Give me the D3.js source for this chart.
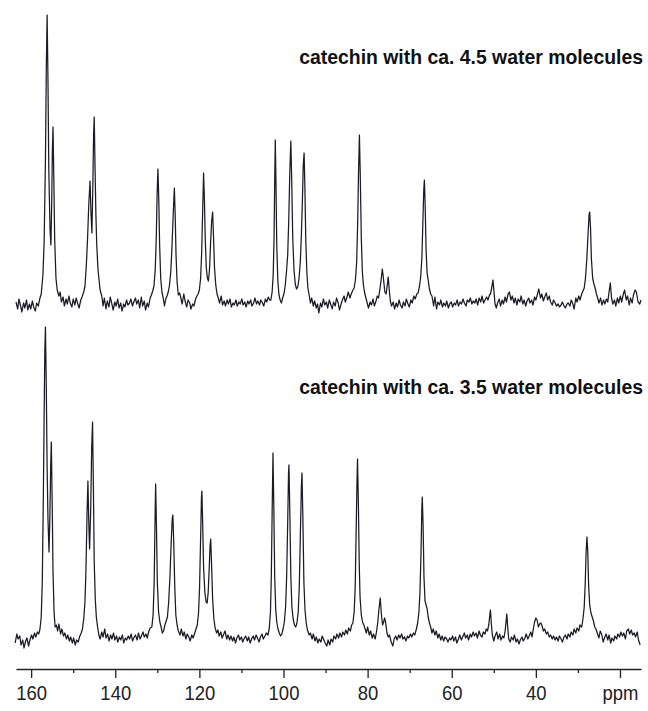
<!DOCTYPE html>
<html>
<head>
<meta charset="utf-8">
<script src="https://cdn.jsdelivr.net/npm/d3@7"></script>
<style>
  body { margin: 0; background: #fff; }
  svg { display: block; }
</style>
</head>
<body>
<script>
// spectrum traces: [ppm, intensity above baseline]
var spectrumWater45 = [
  [163.6,-2],[163.2,-9],[162.9,1],[162.5,-6],[162.2,-12],[161.8,-3],[161.5,-8],[161.1,0],[160.8,-10],[160.4,-4],
  [160.1,-9],[159.7,-1],[159.4,-7],[159.0,-11],[158.7,-3],[158.3,-6],[157.9,2],[157.6,6],
  [157.2,25],[156.9,60],[156.6,140],[156.4,230],[156.2,285],[156.0,220],[155.8,130],[155.5,70],[155.3,55],
  [155.1,100],[154.95,150],[154.8,173],[154.6,120],[154.4,60],[154.1,22],[153.8,10],[153.4,4],
  [153.1,8],[152.8,-2],[152.4,3],[152.1,-6],[151.7,1],[151.4,-4],[151.0,4],[150.7,-3],[150.3,-7],[150.0,1],
  [149.6,-5],[149.3,2],[148.9,-4],[148.6,-8],[148.2,0],[147.9,3],[147.5,8],
  [147.2,14],[146.9,33],[146.6,60],[146.3,95],[146.0,119],[145.75,85],[145.55,67],[145.35,110],[145.15,165],
  [145.0,183],[144.8,130],[144.6,85],[144.4,55],[144.1,30],[143.9,22],[143.6,10],[143.2,4],
  [142.9,-6],[142.6,2],[142.2,-9],[141.9,-1],[141.5,-7],[141.2,3],[140.8,-4],[140.5,-10],[140.1,-2],[139.8,-6],
  [139.4,1],[139.1,-8],[138.7,-3],[138.4,-11],[138.0,-4],[137.7,-7],[137.3,0],[137.0,-5],[136.6,-3],[136.3,1],
  [135.9,-6],[135.6,-2],[135.2,2],[134.9,-4],[134.5,0],[134.2,-8],[133.8,3],[133.5,-6],[133.1,-1],[132.8,-10],
  [132.4,-3],[132.1,-7],[131.7,2],[131.4,5],[131.1,9],
  [130.8,14],[130.5,30],[130.25,62],[130.05,105],[129.85,131],[129.65,100],[129.45,55],[129.2,22],[128.9,8],
  [128.6,2],[128.3,-6],[128.0,1],[127.7,4],[127.4,8],[127.1,15],[126.8,28],[126.5,55],[126.2,88],[125.95,112],
  [125.75,85],[125.55,45],[125.3,18],[125.0,5],[124.7,7],
  [124.4,2],[124.1,-4],[123.7,6],[123.4,-1],[123.0,-7],[122.7,0],[122.3,-3],[122.0,-9],[121.6,-4],[121.3,-6],
  [120.9,1],[120.6,4],
  [120.3,6],[120.0,10],[119.7,22],[119.45,48],[119.2,92],[119.0,127],[118.8,100],[118.6,60],[118.35,32],[118.1,22],
  [117.85,19],[117.6,30],[117.35,55],[117.1,78],[116.85,88],[116.65,65],[116.4,32],[116.1,15],[115.8,6],
  [115.5,2],[115.2,-3],[114.8,4],[114.5,-5],[114.1,-1],[113.8,-6],[113.4,0],[113.1,-4],[112.7,1],[112.4,-7],
  [112.0,-3],[111.7,-5],[111.3,0],[111.0,-6],[110.6,-2],[110.3,-4],[109.9,1],[109.6,-5],[109.2,-2],[108.9,-7],
  [108.5,-1],[108.2,-4],[107.8,0],[107.5,-6],[107.1,-3],[106.8,2],[106.4,-4],[106.1,-1],[105.7,-5],[105.4,0],
  [105.0,-3],[104.7,-6],[104.3,1],[104.0,-2],[103.6,3],[103.3,0],
  [103.0,0],[102.7,8],[102.45,25],[102.25,60],[102.1,115],[101.95,160],[101.8,120],[101.6,55],[101.35,20],[101.1,6],
  [100.8,0],[100.5,-3],[100.2,2],[99.9,6],[99.6,14],[99.3,28],[99.0,45],[98.75,80],[98.5,128],[98.25,159],
  [98.05,120],[97.8,62],[97.5,30],[97.2,16],[96.9,11],[96.6,13],[96.3,22],[96.0,38],[95.75,65],[95.5,100],
  [95.3,135],[95.1,147],[94.9,110],[94.7,60],[94.45,28],[94.2,12],[93.9,5],
  [93.6,-3],[93.3,2],[92.9,-6],[92.6,-1],[92.2,-8],[91.9,-4],[91.6,-13],[91.2,-3],[90.9,-7],[90.5,1],
  [90.2,-5],[89.8,-2],[89.5,-8],[89.1,0],[88.8,-4],[88.4,-9],[88.1,-2],[87.7,-6],[87.4,2],[87.0,-3],
  [86.7,-10],[86.3,-4],[86.0,0],[85.6,4],[85.3,-2],[84.9,3],[84.6,8],[84.2,2],[83.9,6],[83.5,10],
  [83.2,12],[82.9,20],[82.6,38],[82.35,80],[82.15,130],[81.95,165],[81.75,125],[81.5,62],[81.25,28],[81.0,15],
  [80.7,7],[80.4,2],
  [80.1,-3],[79.8,-8],[79.4,-2],[79.1,-5],[78.7,1],[78.4,-6],[78.0,-1],[77.7,4],
  [77.4,2],[77.1,10],[76.8,20],[76.5,31],[76.2,20],[75.9,8],[75.6,6],[75.35,14],[75.1,23],[74.85,10],[74.6,-1],
  [74.3,-6],[73.9,-2],[73.6,-9],[73.2,-3],[72.9,-7],[72.5,0],[72.2,-5],[71.8,-8],[71.5,-2],[71.1,-6],
  [70.8,1],[70.4,-4],[70.1,-7],[69.7,0],[69.4,-3],[69.0,4],[68.7,1],[68.3,6],
  [68.0,7],[67.7,13],[67.4,22],[67.1,42],[66.85,80],[66.65,110],[66.5,120],[66.3,92],[66.1,50],[65.85,27],
  [65.6,20],[65.35,12],[65.0,6],
  [64.7,4],[64.3,-6],[64.0,3],[63.6,-9],[63.3,-2],[62.9,-5],[62.6,0],[62.2,-7],[61.9,-3],[61.5,-6],
  [61.2,-1],[60.8,-8],[60.5,-4],[60.1,-2],[59.8,-7],[59.4,-3],[59.1,-5],[58.7,0],[58.4,-6],[58.0,-2],
  [57.7,-4],[57.3,1],[57.0,-3],[56.6,-6],[56.3,0],[55.9,-2],[55.6,2],[55.2,-4],[54.9,-1],[54.5,-3],
  [54.2,1],[53.8,-5],[53.5,2],[53.1,-2],[52.8,4],[52.4,-3],[52.1,0],[51.7,3],[51.4,0],[51.0,5],
  [50.8,6],[50.5,12],[50.2,20],[49.95,8],[49.7,-4],[49.4,-8],
  [49.1,-3],[48.7,1],[48.4,-6],[48.0,0],[47.7,-4],[47.3,3],[47.0,-2],[46.6,6],[46.3,8],[45.9,0],
  [45.6,4],[45.2,-3],[44.9,2],[44.5,-5],[44.2,1],[43.8,-2],[43.5,4],[43.1,-4],[42.8,0],[42.4,-6],
  [42.1,-1],[41.7,2],[41.4,-3],[41.0,0],[40.7,-5],[40.3,3],[40.0,0],[39.6,6],[39.3,11],[38.9,2],
  [38.6,6],[38.2,-1],[37.9,3],[37.5,7],[37.2,0],[36.8,4],[36.5,-2],[36.1,-5],[35.8,0],[35.4,-3],
  [35.1,-6],[34.7,-4],[34.4,-7],[34.0,-5],[33.7,-2],[33.3,-6],[33.0,-8],[32.6,-4],[32.3,-3],[31.9,-6],
  [31.6,0],[31.2,-4],[30.9,-9],[30.5,2],[30.2,-2],[29.8,4],[29.5,0],[29.1,6],[28.8,9],
  [28.5,12],[28.2,22],[27.9,40],[27.6,65],[27.35,85],[27.2,88],[27.0,72],[26.8,42],[26.5,22],[26.2,16],
  [25.9,12],[25.6,6],[25.3,2],
  [25.0,-3],[24.6,2],[24.3,-5],[23.9,0],[23.6,-4],[23.2,1],[22.9,-2],[22.6,8],[22.3,17],[22.0,2],
  [21.7,-4],[21.3,0],[21.0,-6],[20.6,2],[20.3,-3],[19.9,4],[19.6,-2],[19.2,6],[18.9,10],[18.5,0],
  [18.2,4],[17.8,-5],[17.5,2],[17.1,-3],[16.8,5],[16.4,10],[16.1,8],[15.7,-2],[15.3,-4],[15.0,0]
];

var spectrumWater35 = [
  [163.8,-6],[163.4,3],[163.1,-2],[162.7,1],[162.4,-8],[162.0,-3],[161.7,-11],[161.3,-4],[161.0,-1],[160.6,-9],
  [160.3,-3],[159.9,2],[159.6,-2],[159.2,4],[158.9,0],[158.5,5],[158.2,3],[157.9,8],
  [157.6,20],[157.35,55],[157.1,140],[156.9,225],[156.75,285],[156.6,310],[156.4,250],[156.2,170],[156.0,118],
  [155.75,85],[155.55,120],[155.35,172],[155.2,195],[155.0,135],[154.8,65],[154.55,25],[154.3,10],[154.0,12],
  [153.7,6],[153.4,13],[153.0,3],[152.7,8],[152.3,1],[152.0,4],[151.6,-2],[151.3,2],[150.9,-4],[150.6,0],
  [150.2,-6],[149.9,-1],[149.5,-8],[149.2,-3],[148.8,-5],[148.5,0],[148.1,4],
  [147.8,8],[147.5,18],[147.2,35],[146.95,70],[146.7,125],[146.5,156],[146.3,115],[146.1,88],[145.85,125],
  [145.6,190],[145.4,215],[145.2,150],[145.0,75],[144.75,38],[144.5,20],[144.2,10],[143.9,2],
  [143.6,-2],[143.2,5],[142.9,0],[142.5,8],[142.2,-1],[141.8,3],[141.5,-4],[141.1,2],[140.8,-2],[140.4,4],
  [140.1,-3],[139.7,1],[139.4,-5],[139.0,0],[138.7,-3],[138.3,2],[138.0,-6],[137.6,-1],[137.3,-3],[136.9,1],
  [136.6,-2],[136.2,3],[135.9,-4],[135.5,0],[135.2,2],[134.8,-3],[134.5,4],[134.1,-2],[133.8,1],[133.4,5],
  [133.1,0],[132.7,3],[132.4,-1],[132.0,6],[131.7,9],
  [131.3,10],[131.0,22],[130.75,55],[130.55,115],[130.4,153],[130.2,110],[130.0,55],[129.7,25],[129.4,15],
  [129.1,10],[128.8,4],[128.5,6],[128.2,12],[127.9,16],[127.6,20],[127.3,35],[127.0,60],[126.7,95],[126.45,118],
  [126.3,122],[126.1,95],[125.85,50],[125.6,22],[125.3,12],[125.0,6],
  [124.6,2],[124.3,8],[123.9,1],[123.6,5],[123.2,-2],[122.9,3],[122.5,0],[122.2,-4],[121.8,2],[121.5,-1],
  [121.1,4],[120.8,8],
  [120.5,12],[120.2,24],[119.95,50],[119.7,100],[119.5,140],[119.4,146],[119.2,110],[119.0,70],[118.7,45],
  [118.4,35],[118.15,34],[117.9,45],[117.65,70],[117.45,92],[117.3,98],[117.1,72],[116.85,38],[116.55,18],
  [116.25,9],[115.9,4],
  [115.6,7],[115.3,1],[114.9,5],[114.6,-1],[114.2,3],[113.9,6],[113.5,-2],[113.2,2],[112.8,-3],[112.5,1],
  [112.1,-4],[111.8,0],[111.4,-6],[111.1,-1],[110.7,2],[110.4,-3],[110.0,0],[109.7,-5],[109.3,-1],[109.0,1],
  [108.6,-4],[108.3,0],[107.9,-6],[107.6,-2],[107.2,1],[106.9,-3],[106.5,2],[106.2,-1],[105.8,-5],[105.5,0],
  [105.1,3],[104.8,-2],[104.4,1],[104.1,4],[103.7,2],
  [103.4,8],[103.1,25],[102.9,60],[102.7,125],[102.5,184],[102.3,130],[102.1,62],[101.85,28],[101.6,15],
  [101.3,8],[101.0,4],[100.7,1],[100.4,3],[100.1,8],[99.8,15],[99.5,30],[99.25,60],[99.0,115],[98.8,165],
  [98.7,172],[98.5,125],[98.25,60],[98.0,30],[97.7,18],[97.4,12],[97.1,10],[96.8,14],[96.5,25],[96.25,50],
  [96.0,100],[95.75,150],[95.6,164],[95.4,120],[95.15,55],[94.9,28],[94.6,14],[94.3,7],[93.9,2],
  [93.6,4],[93.2,-2],[92.9,3],[92.5,-4],[92.2,0],[91.8,-6],[91.5,-2],[91.1,-5],[90.8,1],[90.4,-3],
  [90.1,-6],[89.7,-9],[89.4,-3],[89.0,-8],[88.7,-2],[88.3,-5],[88.0,1],[87.6,-2],[87.3,3],[86.9,-1],
  [86.6,4],[86.2,0],[85.9,5],[85.5,2],[85.2,7],[84.8,3],[84.5,9],[84.1,6],[83.8,12],
  [83.5,14],[83.2,25],[82.95,50],[82.75,100],[82.55,150],[82.4,178],[82.2,135],[82.0,75],[81.8,40],[81.5,22],
  [81.2,15],[80.9,12],[80.6,8],
  [80.3,4],[80.0,10],[79.6,2],[79.3,6],[78.9,-1],[78.6,3],[78.2,-2],[77.9,5],
  [77.6,14],[77.3,28],[77.0,39],[76.75,24],[76.45,12],[76.2,15],[75.95,19],[75.7,14],[75.4,4],[75.1,0],
  [74.8,2],[74.4,-5],[74.0,-9],
  [73.7,-2],[73.3,1],[73.0,-3],[72.6,2],[72.3,-1],[71.9,3],[71.6,-2],[71.2,0],[70.9,-4],[70.5,1],
  [70.2,-1],[69.8,3],[69.5,0],[69.1,4],[68.8,2],[68.4,8],
  [68.1,14],[67.8,25],[67.55,45],[67.3,85],[67.1,130],[67.0,140],[66.8,110],[66.6,60],[66.35,36],[66.1,32],
  [65.85,28],[65.6,20],[65.3,14],[65.0,10],[64.7,4],
  [64.4,8],[64.0,2],[63.7,6],[63.3,-1],[63.0,3],[62.6,-3],[62.3,1],[61.9,-4],[61.6,0],[61.2,-2],
  [60.9,-5],[60.5,-1],[60.2,-3],[59.8,1],[59.5,-4],[59.1,0],[58.8,-6],[58.4,-2],[58.1,2],[57.7,-3],
  [57.4,0],[57.0,4],[56.7,-1],[56.3,2],[56.0,-3],[55.6,3],[55.3,0],[54.9,5],[54.6,1],[54.2,4],
  [53.9,-1],[53.5,6],[53.2,2],[52.8,0],[52.5,5],[52.1,3],[51.8,8],
  [51.5,6],[51.2,12],[51.0,20],[50.8,27],[50.6,14],[50.35,2],[50.0,-4],[49.7,1],[49.3,5],[49.0,-2],
  [48.6,3],[48.3,-3],[47.9,1],[47.6,-1],[47.3,6],[47.1,15],[46.9,23],[46.7,10],[46.45,-2],[46.1,-5],
  [45.8,0],[45.4,-3],[45.1,2],[44.7,-5],[44.4,-2],[44.0,-7],[43.7,-3],[43.3,0],[43.0,-4],[42.6,-1],
  [42.3,3],[41.9,-2],[41.6,1],[41.2,5],[40.9,0],[40.6,8],[40.3,15],[40.0,19],[39.7,17],[39.4,10],
  [39.1,13],[38.8,14],[38.5,11],[38.2,6],[37.9,8],[37.5,3],[37.2,5],[36.8,0],[36.5,2],[36.1,-2],
  [35.8,1],[35.4,-3],[35.1,0],[34.7,-4],[34.4,1],[34.0,-2],[33.7,-5],[33.3,0],[33.0,2],[32.6,-2],
  [32.3,3],[31.9,0],[31.6,5],[31.2,2],[30.9,8],[30.5,4],[30.2,9],[29.8,6],[29.5,12],[29.1,10],[28.8,18],
  [28.5,30],[28.25,55],[28.05,85],[27.85,100],[27.65,85],[27.45,52],[27.2,32],[26.9,24],[26.6,20],
  [26.3,16],[26.0,10],[25.7,8],
  [25.4,4],[25.0,-1],[24.7,6],[24.3,2],[24.0,-5],[23.6,0],[23.3,3],[22.9,-3],[22.6,2],[22.2,-6],
  [21.9,-1],[21.5,-4],[21.2,1],[20.8,-2],[20.5,3],[20.1,0],[19.8,5],[19.4,1],[19.1,4],[18.7,-2],
  [18.4,6],[18.0,8],[17.7,3],[17.3,7],[17.0,2],[16.6,4],[16.3,0],[15.9,5],[15.6,-3],[15.2,-8]
];

var traceLabels = ["catechin with ca. 4.5 water molecules", "catechin with ca. 3.5 water molecules"];
var majorTicks = [160, 140, 120, 100, 80, 60, 40, 20];
var minorTicks = [150, 130, 110, 90, 70, 50, 30];
var unitLabel = "ppm";

var width = 648, height = 711;

var svg = d3.select("body").append("svg")
    .attr("width", width)
    .attr("height", height);

var x = d3.scaleLinear().domain([163.6, 15]).range([16, 641]);

// same vertical scale for both traces, only the baseline moves
var traces = [
  { data: spectrumWater45, label: traceLabels[0], y: d3.scaleLinear().domain([0, 300]).range([300, 0]), labelY: 64 },
  { data: spectrumWater35, label: traceLabels[1], y: d3.scaleLinear().domain([0, 300]).range([637, 337]), labelY: 394 }
];

traces.forEach(function(t) {
  var line = d3.line()
      .x(function(d) { return x(d[0]); })
      .y(function(d) { return t.y(d[1]); });

  svg.append("path")
      .datum(t.data)
      .attr("fill", "none")
      .attr("stroke", "#1b1b27")
      .attr("stroke-width", 1.25)
      .attr("stroke-linejoin", "round")
      .attr("d", line);

  svg.append("text")
      .attr("x", 643)
      .attr("y", t.labelY)
      .attr("text-anchor", "end")
      .style("font-family", "'Liberation Sans', Arial, sans-serif")
      .style("font-weight", "bold")
      .style("font-size", "19.4px")
      .style("fill", "#111")
      .text(t.label);
});

var axisY = 669;

var axis = d3.axisBottom(x)
    .tickValues(majorTicks)
    .tickSize(9)
    .tickSizeOuter(0)
    .tickPadding(7)
    .tickFormat(function(d) { return d === 20 ? unitLabel : d; });

var gAxis = svg.append("g")
    .attr("transform", "translate(0," + axisY + ")")
    .call(axis);

gAxis.select(".domain").attr("stroke", "#222").attr("stroke-width", 1.5);
gAxis.selectAll(".tick line").attr("stroke", "#222").attr("stroke-width", 1.3);
// the labels in the picture are a narrow sans, so squeeze them a little
gAxis.selectAll(".tick text")
    .attr("fill", "#222")
    .attr("transform", "scale(0.88,1)")
    .style("font-family", "'Liberation Sans', Arial, sans-serif")
    .style("font-size", "21px");

var minorAxis = d3.axisBottom(x)
    .tickValues(minorTicks)
    .tickSize(4)
    .tickSizeOuter(0)
    .tickFormat("");

var gMinor = svg.append("g")
    .attr("transform", "translate(0," + axisY + ")")
    .call(minorAxis);
gMinor.select(".domain").remove();
gMinor.selectAll(".tick line").attr("stroke", "#222").attr("stroke-width", 1.3);
</script>
</body>
</html>
